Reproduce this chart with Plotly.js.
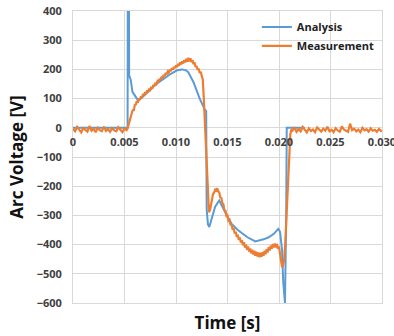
<!DOCTYPE html>
<html>
<head>
<meta charset="utf-8">
<script src="https://cdn.plot.ly/plotly-3.0.1.min.js"></script>
<style>html,body{margin:0;padding:0;background:#fff;}#chart{width:394px;height:336px;}</style>
</head>
<body>
<div id="chart"></div>
<script>
// ---- Data ----
const xTickVals = [0, 0.005, 0.010, 0.015, 0.020, 0.025, 0.030];
const xTickText = ['0', '0.005', '0.010', '0.015', '0.020', '0.025', '0.030'];
const yTickVals = [-600, -500, -400, -300, -200, -100, 0, 100, 200, 300, 400];

const analysisTime = [0, 0.0053, 0.00536, 0.00545, 0.0056, 0.00577, 0.006, 0.0063, 0.0065, 0.007, 0.0075, 0.008, 0.0088, 0.0095, 0.0101, 0.0106, 0.011, 0.0112, 0.0117, 0.0123, 0.0128, 0.01293, 0.01298, 0.0131, 0.01323, 0.0135, 0.0138, 0.0142, 0.0146, 0.015, 0.0154, 0.016, 0.0169, 0.0177, 0.0185, 0.019, 0.0195, 0.01993, 0.0201, 0.0203, 0.0204, 0.02058, 0.0207, 0.02075, 0.0225];
const analysisVolt = [0, 0, 1500, 180, 165, 123, 111, 94, 97, 112, 130, 148, 168, 185, 197, 200, 196, 190, 156, 100, 62, 58, -280, -330, -340, -305, -270, -249, -280, -305, -329, -350, -374, -389, -382, -375, -363, -346, -356, -420, -523, -600, -300, 0, 0];

const measTime = [
  0, 0.0002, 0.0004, 0.0006, 0.0008, 0.0010, 0.0012, 0.0014, 0.0016, 0.0018,
  0.0020, 0.0022, 0.0024, 0.0026, 0.0028, 0.0030, 0.0032, 0.0034, 0.0036, 0.0038,
  0.0040, 0.0042, 0.0044, 0.0046, 0.0048, 0.0050, 0.0052,
  0.0053, 0.0054, 0.0055, 0.0056, 0.0057, 0.0058, 0.0059, 0.0060, 0.0061, 0.0062,
  0.0063, 0.0064, 0.0065, 0.0066, 0.0067, 0.0068, 0.0069, 0.0070, 0.0071, 0.0072,
  0.0073, 0.0074, 0.0075, 0.0076, 0.0077, 0.0078, 0.0079, 0.0080, 0.0081, 0.0082,
  0.0083, 0.0084, 0.0085, 0.0086, 0.0087, 0.0088, 0.0089, 0.0090, 0.0091, 0.0092,
  0.0093, 0.0094, 0.0095, 0.0096, 0.0097, 0.0098, 0.0099, 0.0100, 0.0101, 0.0102,
  0.0103, 0.0104, 0.0105, 0.0106, 0.0107, 0.0108, 0.0109, 0.0110, 0.0111, 0.0112,
  0.0113, 0.0114, 0.0115, 0.0116, 0.0117, 0.0118, 0.0119, 0.0120, 0.0121, 0.0122,
  0.0123, 0.0124, 0.0125, 0.0126, 0.0127, 0.0128, 0.0129, 0.0130, 0.0131, 0.01315,
  0.0132, 0.0133, 0.0134, 0.0135, 0.0136, 0.0137, 0.0138, 0.0139, 0.0140, 0.0141,
  0.0142, 0.0143, 0.0144, 0.0145, 0.0146, 0.0147, 0.0148, 0.0149, 0.0150, 0.0151,
  0.0152, 0.0153, 0.0154, 0.0155, 0.0156, 0.0157, 0.0158, 0.0159, 0.0160, 0.0161,
  0.0162, 0.0163, 0.0164, 0.0165, 0.0166, 0.0167, 0.0168, 0.0169, 0.0170, 0.0171,
  0.0172, 0.0173, 0.0174, 0.0175, 0.0176, 0.0177, 0.0178, 0.0179, 0.0180, 0.0181,
  0.0182, 0.0183, 0.0184, 0.0185, 0.0186, 0.0187, 0.0188, 0.0189, 0.0190, 0.0191,
  0.0192, 0.0193, 0.0194, 0.0195, 0.0196, 0.0197, 0.0198, 0.0199, 0.0200, 0.0201,
  0.0202, 0.0203, 0.0204, 0.0205, 0.0206, 0.0207, 0.0208, 0.0209, 0.0210, 0.0211,
  0.0212,
  0.0213, 0.0215, 0.0217, 0.0219, 0.0221, 0.0223, 0.0225, 0.0227, 0.0229, 0.0231,
  0.0233, 0.0235, 0.0237, 0.0239, 0.0241, 0.0243, 0.0245, 0.0247, 0.0249, 0.0251,
  0.0253, 0.0255, 0.0257, 0.0259, 0.0261, 0.0263, 0.0265, 0.0267, 0.0269, 0.0271,
  0.0273, 0.0275, 0.0277, 0.0279, 0.0281, 0.0283, 0.0285, 0.0287, 0.0289, 0.0291,
  0.0293, 0.0295, 0.0297, 0.0299, 0.0300
];
const measVolt = [
  -4, -12, 3, -9, -16, -1, -7, -13, 6, -10,
  -3, -15, 0, -8, -12, 4, -11, -5, -14, -2,
  -9, -12, 2, -6, -15, -3, -8,
  -2, 12, 18, 40, 46, 62, 58, 78, 80, 92,
  86, 100, 96, 108, 103, 116, 110, 122, 116, 128,
  122, 134, 130, 140, 134, 147, 143, 154, 150, 160,
  156, 168, 164, 175, 170, 181, 177, 188, 183, 193,
  189, 199, 194, 204, 199, 209, 204, 214, 208, 219,
  213, 224, 217, 228, 220, 232, 224, 236, 226, 240,
  227, 238, 225, 232, 218, 224, 208, 212, 198, 203,
  188, 192, 178, 165, 100, 10, -83, -140, -220, -270,
  -289, -282, -258, -246, -226, -222, -212, -215, -207, -218,
  -222, -238, -240, -258, -262, -282, -284, -302, -300, -318,
  -315, -334, -330, -349, -344, -362, -356, -374, -366, -384,
  -376, -393, -385, -402, -392, -410, -400, -418, -406, -424,
  -413, -430, -418, -434, -421, -438, -424, -441, -427, -443,
  -428, -442, -426, -438, -421, -433, -416, -427, -409, -420,
  -403, -414, -398, -410, -396, -410, -398, -414, -406, -432,
  -462, -478, -470, -452, -400, -320, -220, -130, -60, -22,
  -6,
  -10, 2, -14, -5, -12, 3, -9, -16, -2, -11,
  -6, -15, 1, -8, -13, -3, -10, 4, -12, -7,
  -15, -1, -9, -13, 5, -6, -11, -14, 14, -8,
  -3, -12, -6, -15, 0, -9, -5, -13, -2, -10,
  -7, -14, -4, -11, -8
];

const seriesNames = ['Analysis', 'Measurement'];
const seriesColors = ['#5B9BD5', '#ED7D31'];

// ---- Chart ----
const font = 'Open Sans, Noto Sans, sans-serif';
const traces = [
  {x: analysisTime, y: analysisVolt, name: seriesNames[0], type: 'scatter', mode: 'lines',
   line: {color: seriesColors[0], width: 2}, xaxis: 'x', yaxis: 'y'},
  {x: measTime, y: measVolt, name: seriesNames[1], type: 'scatter', mode: 'lines',
   line: {color: seriesColors[1], width: 2.2}, xaxis: 'x2', yaxis: 'y'}
];

const layout = {
  width: 394, height: 336,
  margin: {l: 73, r: 12, t: 11, b: 33},
  paper_bgcolor: '#ffffff', plot_bgcolor: '#ffffff',
  font: {family: font, color: '#404040'},
  showlegend: true,
  legend: {x: 0.595, y: 0.995, xanchor: 'left', yanchor: 'top', bgcolor: 'rgba(0,0,0,0)',
           font: {family: font, size: 11, weight: 'bold', color: '#222222'}},
  xaxis: {
    range: [0, 0.03], tickvals: xTickVals, showticklabels: false, ticks: '',
    showgrid: true, gridcolor: '#d9d9d9', gridwidth: 1,
    showline: true, mirror: true, linecolor: '#d9d9d9', zeroline: false,
    title: {text: 'Time [s]', font: {family: font, size: 17, weight: 'bold', color: '#111111'}, standoff: 14}
  },
  xaxis2: {
    overlaying: 'x', anchor: 'free', position: 0.6, side: 'bottom',
    range: [0, 0.03], tickvals: xTickVals, ticktext: xTickText, ticks: '',
    showgrid: false, showline: false, zeroline: false, ticklabelstandoff: 6,
    ticklabeloverflow: 'allow',
    tickfont: {family: font, size: 11, weight: 'bold', color: '#404040'}
  },
  yaxis: {
    range: [-600, 400], tickvals: yTickVals, ticks: '',
    showgrid: true, gridcolor: '#d9d9d9', gridwidth: 1,
    showline: true, mirror: true, linecolor: '#d9d9d9', zeroline: false,
    ticklabelstandoff: 8,
    tickfont: {family: font, size: 11, weight: 'bold', color: '#404040'},
    title: {text: 'Arc Voltage [V]', font: {family: font, size: 17, weight: 'bold', color: '#111111'}, standoff: 8}
  }
};

Plotly.newPlot('chart', traces, layout, {displayModeBar: false, staticPlot: true});
</script>
</body>
</html>
